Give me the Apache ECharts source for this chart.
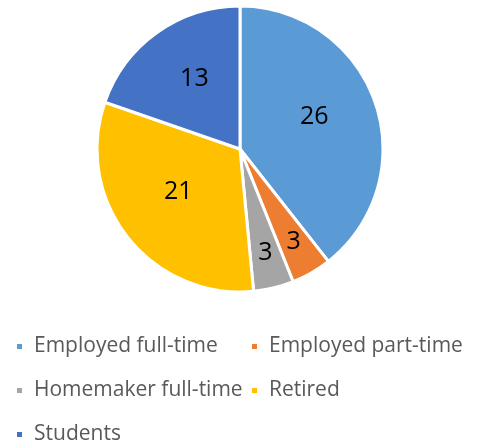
<!DOCTYPE html>
<html>
<head>
<meta charset="utf-8">
<script src="https://cdn.jsdelivr.net/npm/echarts@6/dist/echarts.min.js"></script>
<style>
  html, body { margin: 0; padding: 0; background: #fff; }
  #chart { width: 479px; height: 447px; }
</style>
</head>
<body>
<div id="chart"></div>
<script>
const categories = [
  "Employed full-time",
  "Employed part-time",
  "Homemaker full-time",
  "Retired",
  "Students",
];
const counts = [26, 3, 3, 21, 13];
const colors = ["#5B9BD5", "#ED7D31", "#A5A5A5", "#FFC000", "#4472C4"];

// legend grid, Excel-style: two columns, three rows
const legendSpots = [
  { left: 15, top: 336 },
  { left: 250, top: 336 },
  { left: 15, top: 380 },
  { left: 250, top: 380 },
  { left: 15, top: 424 },
];

const FONT = "'Open Sans', sans-serif";
const CX = 240, CY = 149, R = 143;

const chart = echarts.init(document.getElementById("chart"), null, { renderer: "canvas" });

// Excel "best fit": thin slices get their label pushed towards the rim,
// the big ones sit a little above the mid-radius point
function labelRadius(v) {
  return v < 5 ? 0.75 * R : 0.55 * R;
}
function labelLift(v) {
  return v < 5 ? 0 : -6;
}

const option = {
  animation: false,
  backgroundColor: "#fff",
  color: colors,
  legend: categories.map((name, i) => ({
    data: [name],
    left: legendSpots[i].left,
    top: legendSpots[i].top,
    icon: "rect",
    itemWidth: 7,
    itemHeight: 7,
    itemGap: 0,
    padding: 0,
    textStyle: {
      color: "#595959",
      fontSize: 21,
      fontFamily: FONT,
      padding: [0, 0, 0, 6],
    },
  })),
  series: [
    {
      type: "pie",
      center: [CX, CY],
      radius: [0, R],
      startAngle: 90,
      clockwise: true,
      avoidLabelOverlap: false,
      itemStyle: {
        borderColor: "#fff",
        borderWidth: 3,
      },
      label: {
        show: true,
        position: "inside",
        formatter: "{c}",
        color: "#000",
        fontSize: 25,
        fontFamily: FONT,
      },
      labelLayout: (p) => {
        const r = p.labelRect;
        const v = counts[p.dataIndex];
        const lx = r.x + r.width / 2 - CX;
        const ly = r.y + r.height / 2 - CY;
        const len = Math.sqrt(lx * lx + ly * ly) || 1;
        const k = labelRadius(v) / len;
        return { dx: lx * k - lx, dy: ly * k - ly + labelLift(v) };
      },
      labelLine: { show: false },
      emphasis: { disabled: true },
      data: categories.map((name, i) => ({ name, value: counts[i] })),
    },
  ],
};

chart.setOption(option);
</script>
</body>
</html>
